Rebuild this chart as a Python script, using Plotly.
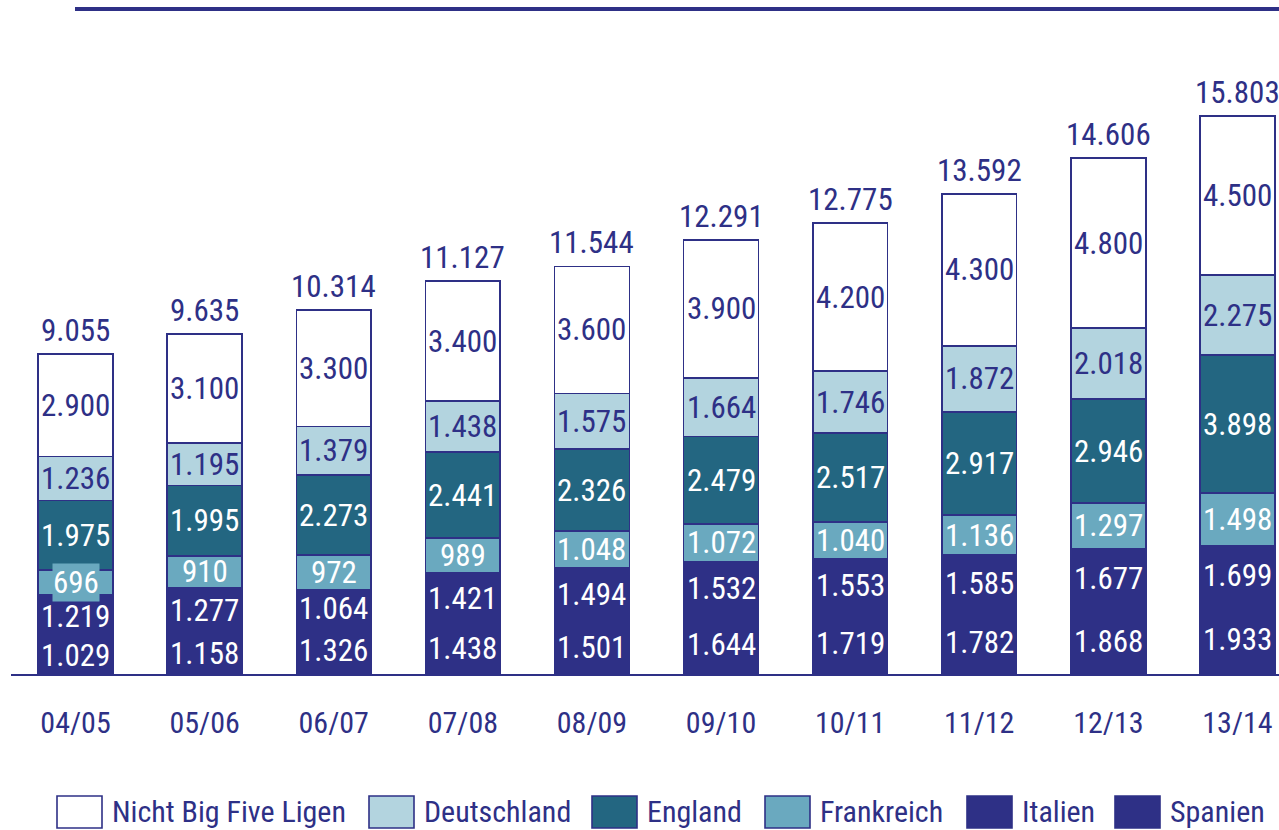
import plotly.graph_objects as go

# ---------------- data ----------------
seasons = ["04/05", "05/06", "06/07", "07/08", "08/09", "09/10", "10/11", "11/12", "12/13", "13/14"]
spanien = [1029, 1158, 1326, 1438, 1501, 1644, 1719, 1782, 1868, 1933]
italien = [1219, 1277, 1064, 1421, 1494, 1532, 1553, 1585, 1677, 1699]
frankreich = [696, 910, 972, 989, 1048, 1072, 1040, 1136, 1297, 1498]
england = [1975, 1995, 2273, 2441, 2326, 2479, 2517, 2917, 2946, 3898]
deutschland = [1236, 1195, 1379, 1438, 1575, 1664, 1746, 1872, 2018, 2275]
nicht_big_five = [2900, 3100, 3300, 3400, 3600, 3900, 4200, 4300, 4800, 4500]
totals = [9055, 9635, 10314, 11127, 11544, 12291, 12775, 13592, 14606, 15803]

# ---------------- styles ----------------
NAVY = "#2E3086"
FONT = "Liberation Sans Narrow, Arial Narrow, Roboto Condensed, DejaVu Sans Condensed, sans-serif"
W, H = 1279, 830
ML, MR, MT, MB = 11, 0, 30, 156

series = [  # bottom to top
    ("Spanien", spanien, NAVY, "white"),
    ("Italien", italien, NAVY, "white"),
    ("Frankreich", frankreich, "#6AA9BF", "white"),
    ("England", england, "#236681", "white"),
    ("Deutschland", deutschland, "#B3D4DF", NAVY),
    ("Nicht Big Five Ligen", nicht_big_five, "#FFFFFF", NAVY),
]

def fmt(v):
    return f"{v:,}".replace(",", ".")

fig = go.Figure()
x_idx = list(range(len(seasons)))
for name, vals, col, tcol in series:
    fig.add_trace(go.Bar(
        x=x_idx, y=vals, name=name, width=0.58,
        marker=dict(color=col, line=dict(color=NAVY, width=1.6)),
        showlegend=False, hoverinfo="skip",
    ))

annotations = []
base = [0] * len(seasons)
for name, vals, col, tcol in series:
    for i, v in enumerate(vals):
        ann = dict(x=i, y=base[i] + v / 2, xref="x", yref="y", text=fmt(v),
                   showarrow=False, font=dict(family=FONT, size=31, color=tcol),
                   xanchor="center", yanchor="middle")
        if name == "Frankreich" and v < 800:
            ann.update(bgcolor=col, borderpad=0)
        annotations.append(ann)
        base[i] += v

for i, t in enumerate(totals):
    annotations.append(dict(x=i, y=t, xref="x", yref="y", text=fmt(t), showarrow=False,
                            yanchor="bottom", yshift=3,
                            font=dict(family=FONT, size=31, color=NAVY)))

# ---- custom legend (layout decoration) ----
plot_w = W - ML - MR
plot_h = H - MT - MB
def px_x(p):
    return (p - ML) / plot_w
def px_y(p):
    return (H - MB - p) / plot_h

legend_order = ["Nicht Big Five Ligen", "Deutschland", "England", "Frankreich", "Italien", "Spanien"]
legend_box_left = [57, 369, 592, 765, 967, 1115]
colors = {s[0]: s[2] for s in series}
shapes = []
for lab, bx in zip(legend_order, legend_box_left):
    shapes.append(dict(type="rect", xref="paper", yref="paper",
                       x0=px_x(bx), x1=px_x(bx + 45), y0=px_y(828), y1=px_y(796),
                       fillcolor=colors[lab], line=dict(color=NAVY, width=1.6)))
    annotations.append(dict(xref="paper", yref="paper", x=px_x(bx + 53), y=px_y(812),
                            xanchor="left", yanchor="middle", text=lab, showarrow=False,
                            font=dict(family=FONT, size=30, color=NAVY)))

# top rule
shapes.append(dict(type="line", xref="paper", yref="paper",
                   x0=px_x(75), x1=1.0, y0=px_y(9), y1=px_y(9),
                   line=dict(color=NAVY, width=4)))

fig.update_layout(
    width=W, height=H,
    margin=dict(l=ML, r=MR, t=MT, b=MB),
    barmode="stack",
    plot_bgcolor="white", paper_bgcolor="white",
    showlegend=False,
    annotations=annotations,
    shapes=shapes,
    xaxis=dict(range=[-0.5, -0.5 + plot_w / 129.1], tickmode="array", tickvals=x_idx,
               ticktext=seasons, showgrid=False, zeroline=False,
               showline=True, linecolor=NAVY, linewidth=2, ticks="",
               ticklabelstandoff=21,
               tickfont=dict(family=FONT, size=30, color=NAVY)),
    yaxis=dict(range=[0, plot_h / 0.03531], visible=False, showgrid=False, zeroline=False),
)

fig.write_html("out.html", config={"displayModeBar": False},
               post_script="document.body.style.margin='0';document.body.style.overflow='hidden';")
